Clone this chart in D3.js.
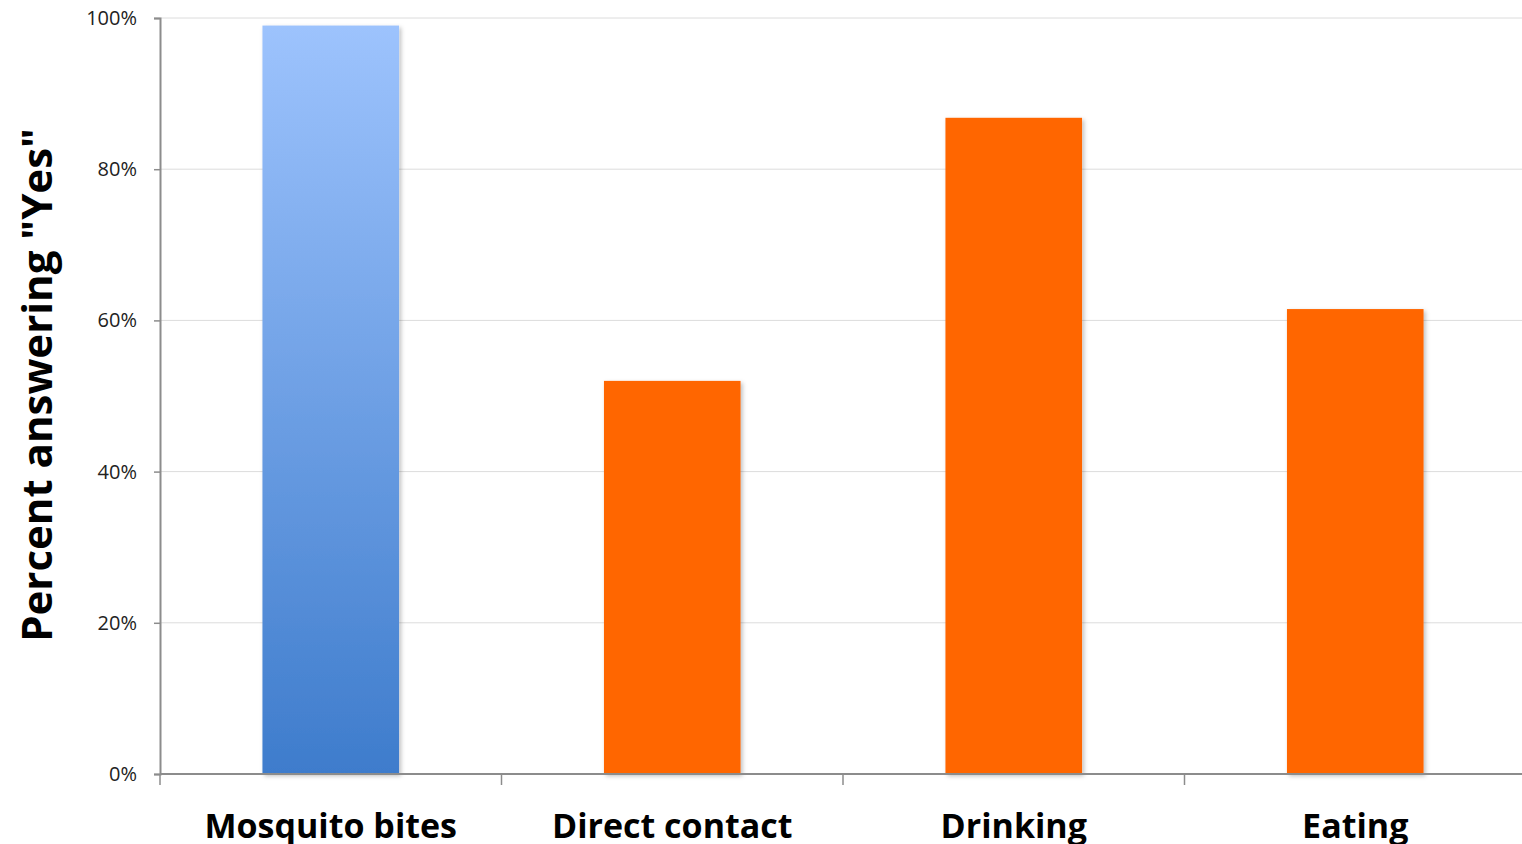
<!DOCTYPE html>
<html>
<head>
<meta charset="utf-8">
<script src="https://cdn.jsdelivr.net/npm/d3@7"></script>
<style>
  body { margin: 0; background: #fff; }
  svg { display: block; }
</style>
</head>
<body>
<svg id="chart" width="1522" height="844"></svg>
<script>
// data
var categories = ["Mosquito bites", "Direct contact", "Drinking", "Eating"];
var percentYes = [99, 52, 86.8, 61.5];
var yTicks = [0, 20, 40, 60, 80, 100];

var svg = d3.select("#chart");

var margin = { top: 18, right: -4, bottom: 70, left: 160 };
var width = 1522 - margin.left - margin.right;
var height = 844 - margin.top - margin.bottom;

var defs = svg.append("defs");
var grad = defs.append("linearGradient")
  .attr("id", "blueGrad")
  .attr("x1", 0).attr("y1", 0).attr("x2", 0).attr("y2", 1);
grad.append("stop").attr("offset", "0%").attr("stop-color", "#9dc3fd");
grad.append("stop").attr("offset", "100%").attr("stop-color", "#3e7ccc");

var shadow = defs.append("filter").attr("id", "shadow")
  .attr("x", "-10%").attr("y", "-10%").attr("width", "130%").attr("height", "130%");
shadow.append("feDropShadow")
  .attr("dx", 2).attr("dy", 2).attr("stdDeviation", 2)
  .attr("flood-color", "#000").attr("flood-opacity", 0.25);

var plot = svg.append("g").attr("transform", "translate(" + margin.left + "," + margin.top + ")");

var x = d3.scaleBand()
  .domain(categories)
  .range([0, width])
  .paddingInner(0.6)
  .paddingOuter(0.3);

var y = d3.scaleLinear().domain([0, 100]).range([height, 0]);

// gridlines
plot.append("g")
  .selectAll("line")
  .data(yTicks.slice(1))
  .join("line")
  .attr("x1", 0).attr("x2", width)
  .attr("y1", d => y(d)).attr("y2", d => y(d))
  .attr("stroke", "#dcdcdc").attr("stroke-width", 1);

// bars
plot.append("g")
  .selectAll("rect")
  .data(categories)
  .join("rect")
  .attr("x", d => x(d))
  .attr("width", x.bandwidth())
  .attr("y", (d, i) => y(percentYes[i]))
  .attr("height", (d, i) => height - y(percentYes[i]))
  .attr("fill", (d, i) => i === 0 ? "url(#blueGrad)" : "#ff6600")
  .attr("filter", "url(#shadow)");

// y axis
var yAxis = d3.axisLeft(y).tickValues(yTicks).tickFormat(d => d + "%").tickSize(6).tickSizeOuter(6);
var yGroup = plot.append("g").call(yAxis);
yGroup.select(".domain").attr("stroke", "#8c8c8c").attr("stroke-width", 2);
yGroup.selectAll(".tick line").attr("stroke", "#8c8c8c").attr("stroke-width", 1.5);
yGroup.selectAll(".tick text")
  .attr("x", -23)
  .style("font-family", "'Open Sans', sans-serif")
  .style("font-size", "20px")
  .attr("fill", "#222");

// x axis with ticks at band boundaries
var xAxisGroup = plot.append("g").attr("transform", "translate(0," + height + ")");
xAxisGroup.append("line")
  .attr("x1", 0).attr("x2", width)
  .attr("stroke", "#8c8c8c").attr("stroke-width", 2);
var step = x.step();
var boundaries = d3.range(categories.length).map(i => x(categories[i]) - x.paddingOuter() * step);
xAxisGroup.selectAll("line.tk")
  .data(boundaries)
  .join("line")
  .attr("class", "tk")
  .attr("x1", d => d).attr("x2", d => d)
  .attr("y1", 0).attr("y2", 11)
  .attr("stroke", "#8c8c8c").attr("stroke-width", 1.5);

// category labels
plot.append("g")
  .selectAll("text")
  .data(categories)
  .join("text")
  .text(d => d)
  .attr("x", d => x(d) + x.bandwidth() / 2)
  .attr("y", height + 64)
  .attr("text-anchor", "middle")
  .style("font-family", "'Open Sans', sans-serif")
  .style("font-weight", "bold")
  .style("font-size", "34px")
  .attr("fill", "#000");

// y title
svg.append("text")
  .text('Percent answering "Yes"')
  .attr("transform", "translate(52,385) rotate(-90)")
  .attr("text-anchor", "middle")
  .style("font-family", "'Open Sans', sans-serif")
  .style("font-weight", "bold")
  .style("font-size", "42px")
  .attr("fill", "#000");
</script>
</body>
</html>
